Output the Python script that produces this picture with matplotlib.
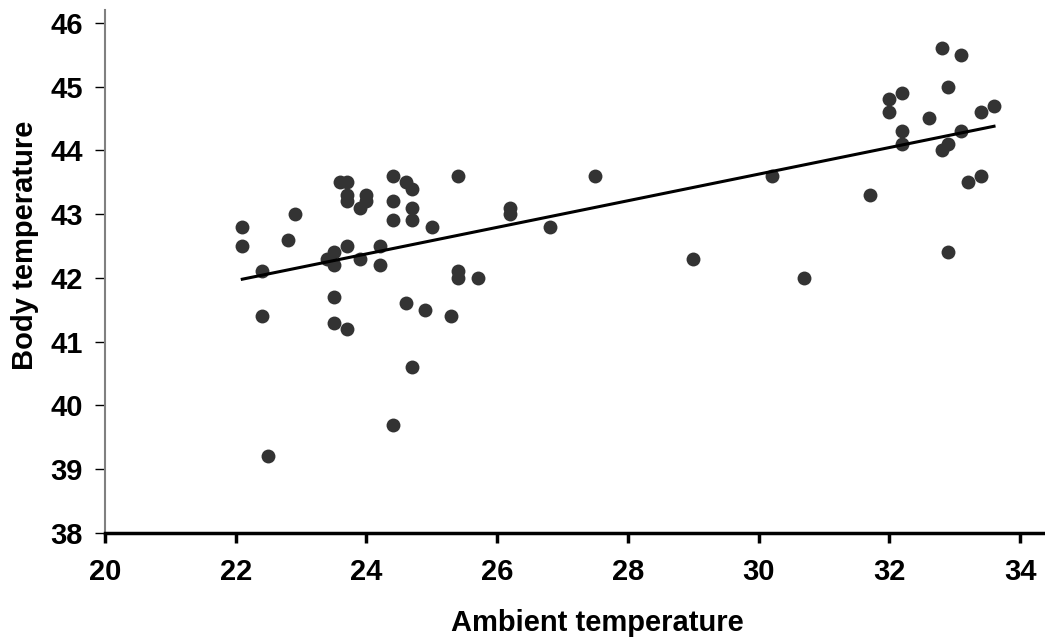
import matplotlib
matplotlib.use("Agg")
import matplotlib.pyplot as plt
import numpy as np

plt.rcParams['font.family'] = ['Liberation Sans', 'DejaVu Sans']

ambient = [22.1, 22.1, 22.4, 22.4, 22.5, 22.8, 22.9, 23.4, 23.5, 23.5, 23.5, 23.5,
           23.6, 23.7, 23.7, 23.7, 23.7, 23.7, 23.9, 23.9, 24.0, 24.0, 24.2, 24.2,
           24.4, 24.4, 24.4, 24.4, 24.6, 24.6, 24.7, 24.7, 24.7, 24.7, 24.9, 25.0,
           25.3, 25.4, 25.4, 25.4, 25.7, 26.2, 26.2, 26.8, 27.5, 29.0, 30.2, 30.7,
           31.7, 32.0, 32.0, 32.2, 32.2, 32.2, 32.6, 32.8, 32.8, 32.9, 32.9, 32.9,
           33.1, 33.1, 33.2, 33.4, 33.4, 33.6]
body = [42.8, 42.5, 42.1, 41.4, 39.2, 42.6, 43.0, 42.3, 42.4, 42.2, 41.7, 41.3,
        43.5, 43.5, 43.3, 43.2, 42.5, 41.2, 43.1, 42.3, 43.3, 43.2, 42.5, 42.2,
        43.6, 43.2, 42.9, 39.7, 43.5, 41.6, 43.4, 43.1, 42.9, 40.6, 41.5, 42.8,
        41.4, 43.6, 42.1, 42.0, 42.0, 43.1, 43.0, 42.8, 43.6, 42.3, 43.6, 42.0,
        43.3, 44.8, 44.6, 44.9, 44.3, 44.1, 44.5, 45.6, 44.0, 45.0, 44.1, 42.4,
        45.5, 44.3, 43.5, 44.6, 43.6, 44.7]

x_ticks = [20, 22, 24, 26, 28, 30, 32, 34]
y_ticks = [38, 39, 40, 41, 42, 43, 44, 45, 46]

fig = plt.figure(figsize=(10.45, 6.4), dpi=100)
ax = fig.add_axes([105/1045, 107/640, 940/1045, 523/640])

ax.scatter(ambient, body, s=100, color='#333333', zorder=3, linewidths=0)

xa = np.array(ambient)
ya = np.array(body)
slope, intercept = np.polyfit(xa, ya, 1)
xl = np.array([xa.min(), xa.max()])
ax.plot(xl, slope * xl + intercept, color='black', lw=2.2, zorder=4)

ax.set_xlim(20, 34.38)
ax.set_ylim(38, 46.2)
ax.set_xticks(x_ticks)
ax.set_yticks(y_ticks)

for s in ['top', 'right']:
    ax.spines[s].set_visible(False)
ax.spines['left'].set_color('#808080')
ax.spines['left'].set_linewidth(1.5)
ax.spines['bottom'].set_color('black')
ax.spines['bottom'].set_linewidth(2.5)
ax.spines['bottom'].set_zorder(5)

ax.tick_params(axis='x', direction='out', length=7, width=2.5, color='black',
               labelsize=21, pad=11)
ax.tick_params(axis='y', direction='out', length=7, width=1, color='black',
               labelsize=21, pad=9)
for lab in ax.get_xticklabels() + ax.get_yticklabels():
    lab.set_fontweight('bold')

ax.set_xlabel('Ambient temperature', fontsize=21, fontweight='bold')
ax.set_ylabel('Body temperature', fontsize=21, fontweight='bold')
ax.xaxis.set_label_coords(0.524, -0.145)
ax.yaxis.set_label_coords(-0.070, 0.551)

fig.savefig('out.png', dpi=100)
